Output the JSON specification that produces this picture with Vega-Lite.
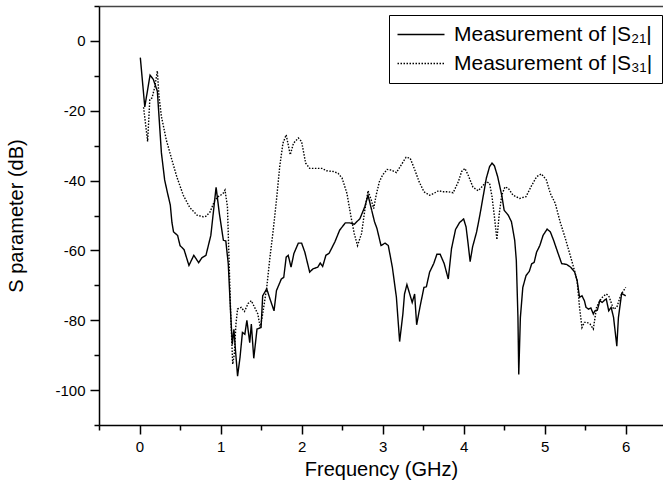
{
  "$schema": "https://vega.github.io/schema/vega-lite/v6.json",
  "width": 564,
  "height": 419,
  "autosize": "none",
  "padding": {"left": 99, "top": 6, "right": 0, "bottom": 66},
  "background": "white",
  "config": {
    "font": "Liberation Sans",
    "view": {"stroke": null},
    "axis": {
      "grid": false,
      "domainColor": "black",
      "domainWidth": 1.5,
      "tickColor": "black",
      "tickWidth": 1.5,
      "labelColor": "black",
      "labelFontSize": 15,
      "titleColor": "black",
      "titleFontSize": 20,
      "titleFontWeight": "normal"
    },
    "legend": {
      "orient": "none",
      "legendX": 290,
      "legendY": 9,
      "strokeColor": "black",
      "fillColor": "white",
      "padding": 9,
      "rowPadding": 7,
      "symbolType": "M-1.375,0H4.5",
      "symbolSize": 256,
      "symbolStrokeWidth": 1.4,
      "symbolStrokeColor": "black",
      "labelFontSize": 21,
      "labelColor": "black",
      "labelOffset": 35,
      "labelLimit": 400,
      "title": null
    }
  },
  "data": {
    "values": [
      {"s":"S21","f":0.01,"v":-4.8},{"s":"S21","f":0.065,"v":-18.9},{"s":"S21","f":0.13,"v":-9.8},{"s":"S21","f":0.17,"v":-11},{"s":"S21","f":0.22,"v":-14.4},{"s":"S21","f":0.27,"v":-32},{"s":"S21","f":0.31,"v":-39.8},{"s":"S21","f":0.34,"v":-43},{"s":"S21","f":0.38,"v":-47},{"s":"S21","f":0.4,"v":-52},{"s":"S21","f":0.42,"v":-54.7},{"s":"S21","f":0.47,"v":-55.7},{"s":"S21","f":0.5,"v":-58.6},{"s":"S21","f":0.55,"v":-59.8},{"s":"S21","f":0.61,"v":-64.3},{"s":"S21","f":0.67,"v":-61.4},{"s":"S21","f":0.73,"v":-63.5},{"s":"S21","f":0.77,"v":-62.1},{"s":"S21","f":0.82,"v":-61.4},{"s":"S21","f":0.88,"v":-55.7},{"s":"S21","f":0.945,"v":-41.9},{"s":"S21","f":0.985,"v":-49.4},{"s":"S21","f":1.035,"v":-57.1},{"s":"S21","f":1.065,"v":-57.3},{"s":"S21","f":1.095,"v":-63.8},{"s":"S21","f":1.125,"v":-78.2},{"s":"S21","f":1.145,"v":-86.9},{"s":"S21","f":1.165,"v":-82.6},{"s":"S21","f":1.185,"v":-88.8},{"s":"S21","f":1.21,"v":-96},{"s":"S21","f":1.24,"v":-90.7},{"s":"S21","f":1.27,"v":-83.5},{"s":"S21","f":1.3,"v":-84},{"s":"S21","f":1.325,"v":-80},{"s":"S21","f":1.36,"v":-86.4},{"s":"S21","f":1.38,"v":-81.1},{"s":"S21","f":1.41,"v":-90.9},{"s":"S21","f":1.45,"v":-82.5},{"s":"S21","f":1.5,"v":-82.1},{"s":"S21","f":1.52,"v":-73},{"s":"S21","f":1.57,"v":-71},{"s":"S21","f":1.61,"v":-73.9},{"s":"S21","f":1.66,"v":-77.3},{"s":"S21","f":1.69,"v":-71.5},{"s":"S21","f":1.75,"v":-68.2},{"s":"S21","f":1.78,"v":-67.7},{"s":"S21","f":1.81,"v":-61.9},{"s":"S21","f":1.835,"v":-61.4},{"s":"S21","f":1.87,"v":-64.8},{"s":"S21","f":1.905,"v":-60.9},{"s":"S21","f":1.96,"v":-57.9},{"s":"S21","f":2.0,"v":-57.9},{"s":"S21","f":2.04,"v":-60.5},{"s":"S21","f":2.1,"v":-66.2},{"s":"S21","f":2.14,"v":-65.3},{"s":"S21","f":2.2,"v":-64.8},{"s":"S21","f":2.23,"v":-63.6},{"s":"S21","f":2.26,"v":-64.6},{"s":"S21","f":2.3,"v":-61.4},{"s":"S21","f":2.34,"v":-60.8},{"s":"S21","f":2.41,"v":-57.6},{"s":"S21","f":2.47,"v":-54.2},{"s":"S21","f":2.54,"v":-52.1},{"s":"S21","f":2.59,"v":-52.1},{"s":"S21","f":2.65,"v":-52.5},{"s":"S21","f":2.72,"v":-50.9},{"s":"S21","f":2.78,"v":-47.5},{"s":"S21","f":2.82,"v":-44.2},{"s":"S21","f":2.86,"v":-48},{"s":"S21","f":2.9,"v":-51.8},{"s":"S21","f":2.93,"v":-53.7},{"s":"S21","f":2.98,"v":-58.6},{"s":"S21","f":3.03,"v":-57.9},{"s":"S21","f":3.07,"v":-58.6},{"s":"S21","f":3.12,"v":-64.8},{"s":"S21","f":3.17,"v":-73.4},{"s":"S21","f":3.21,"v":-86.1},{"s":"S21","f":3.25,"v":-78.2},{"s":"S21","f":3.27,"v":-72.5},{"s":"S21","f":3.3,"v":-69.8},{"s":"S21","f":3.34,"v":-72.9},{"s":"S21","f":3.365,"v":-74.9},{"s":"S21","f":3.395,"v":-72.5},{"s":"S21","f":3.42,"v":-81.3},{"s":"S21","f":3.46,"v":-76.3},{"s":"S21","f":3.51,"v":-70.6},{"s":"S21","f":3.54,"v":-70.4},{"s":"S21","f":3.58,"v":-66.2},{"s":"S21","f":3.63,"v":-63.8},{"s":"S21","f":3.67,"v":-61.1},{"s":"S21","f":3.71,"v":-61.1},{"s":"S21","f":3.76,"v":-63.8},{"s":"S21","f":3.81,"v":-68.2},{"s":"S21","f":3.85,"v":-59.5},{"s":"S21","f":3.9,"v":-54},{"s":"S21","f":3.95,"v":-52},{"s":"S21","f":4.0,"v":-51},{"s":"S21","f":4.03,"v":-53.3},{"s":"S21","f":4.055,"v":-58.1},{"s":"S21","f":4.08,"v":-63.2},{"s":"S21","f":4.11,"v":-59},{"s":"S21","f":4.16,"v":-54.7},{"s":"S21","f":4.2,"v":-49.9},{"s":"S21","f":4.24,"v":-44.6},{"s":"S21","f":4.28,"v":-39.3},{"s":"S21","f":4.32,"v":-36},{"s":"S21","f":4.35,"v":-35},{"s":"S21","f":4.38,"v":-35.8},{"s":"S21","f":4.42,"v":-38.9},{"s":"S21","f":4.47,"v":-44.2},{"s":"S21","f":4.5,"v":-48.5},{"s":"S21","f":4.55,"v":-49.9},{"s":"S21","f":4.59,"v":-51.8},{"s":"S21","f":4.63,"v":-57.1},{"s":"S21","f":4.65,"v":-62.9},{"s":"S21","f":4.67,"v":-79.2},{"s":"S21","f":4.68,"v":-95.5},{"s":"S21","f":4.7,"v":-79.2},{"s":"S21","f":4.73,"v":-70.6},{"s":"S21","f":4.77,"v":-67.2},{"s":"S21","f":4.81,"v":-66},{"s":"S21","f":4.84,"v":-63.8},{"s":"S21","f":4.87,"v":-63.4},{"s":"S21","f":4.9,"v":-60.5},{"s":"S21","f":4.94,"v":-58.6},{"s":"S21","f":4.98,"v":-55.7},{"s":"S21","f":5.03,"v":-53.9},{"s":"S21","f":5.07,"v":-54.7},{"s":"S21","f":5.11,"v":-57.1},{"s":"S21","f":5.16,"v":-60.5},{"s":"S21","f":5.21,"v":-63.8},{"s":"S21","f":5.27,"v":-64},{"s":"S21","f":5.32,"v":-64.8},{"s":"S21","f":5.37,"v":-66.2},{"s":"S21","f":5.4,"v":-68.6},{"s":"S21","f":5.43,"v":-73.4},{"s":"S21","f":5.46,"v":-73},{"s":"S21","f":5.49,"v":-74.4},{"s":"S21","f":5.51,"v":-76.3},{"s":"S21","f":5.54,"v":-76.8},{"s":"S21","f":5.57,"v":-76.5},{"s":"S21","f":5.6,"v":-78.2},{"s":"S21","f":5.62,"v":-77.3},{"s":"S21","f":5.65,"v":-77.1},{"s":"S21","f":5.68,"v":-74.4},{"s":"S21","f":5.71,"v":-74.9},{"s":"S21","f":5.74,"v":-74.2},{"s":"S21","f":5.76,"v":-73.9},{"s":"S21","f":5.79,"v":-77.3},{"s":"S21","f":5.82,"v":-76.3},{"s":"S21","f":5.85,"v":-79.2},{"s":"S21","f":5.89,"v":-87.4},{"s":"S21","f":5.91,"v":-79.2},{"s":"S21","f":5.95,"v":-72.3},{"s":"S21","f":6.0,"v":-73},
      {"s":"S31","f":0.05,"v":-19},{"s":"S31","f":0.1,"v":-28.8},{"s":"S31","f":0.127,"v":-16.8},{"s":"S31","f":0.155,"v":-16.3},{"s":"S31","f":0.19,"v":-13},{"s":"S31","f":0.22,"v":-8.6},{"s":"S31","f":0.24,"v":-15.8},{"s":"S31","f":0.27,"v":-21.6},{"s":"S31","f":0.33,"v":-28.3},{"s":"S31","f":0.4,"v":-34.1},{"s":"S31","f":0.46,"v":-38.9},{"s":"S31","f":0.54,"v":-44.2},{"s":"S31","f":0.62,"v":-47.7},{"s":"S31","f":0.71,"v":-49.9},{"s":"S31","f":0.79,"v":-50.4},{"s":"S31","f":0.82,"v":-50.2},{"s":"S31","f":0.87,"v":-49},{"s":"S31","f":0.93,"v":-45.6},{"s":"S31","f":0.97,"v":-44.6},{"s":"S31","f":1.0,"v":-44.2},{"s":"S31","f":1.03,"v":-43.7},{"s":"S31","f":1.055,"v":-42.7},{"s":"S31","f":1.085,"v":-47.5},{"s":"S31","f":1.1,"v":-59},{"s":"S31","f":1.125,"v":-78.2},{"s":"S31","f":1.15,"v":-92.6},{"s":"S31","f":1.17,"v":-89.7},{"s":"S31","f":1.19,"v":-81.1},{"s":"S31","f":1.21,"v":-76.8},{"s":"S31","f":1.255,"v":-76.3},{"s":"S31","f":1.295,"v":-77.5},{"s":"S31","f":1.34,"v":-75.2},{"s":"S31","f":1.38,"v":-74.4},{"s":"S31","f":1.42,"v":-76.3},{"s":"S31","f":1.46,"v":-78.2},{"s":"S31","f":1.49,"v":-82.1},{"s":"S31","f":1.52,"v":-78.2},{"s":"S31","f":1.57,"v":-70.6},{"s":"S31","f":1.61,"v":-61.9},{"s":"S31","f":1.65,"v":-54.2},{"s":"S31","f":1.69,"v":-45.6},{"s":"S31","f":1.73,"v":-36},{"s":"S31","f":1.77,"v":-29.3},{"s":"S31","f":1.81,"v":-26.9},{"s":"S31","f":1.86,"v":-32.6},{"s":"S31","f":1.9,"v":-29.3},{"s":"S31","f":1.96,"v":-27.8},{"s":"S31","f":2.0,"v":-28.8},{"s":"S31","f":2.05,"v":-35},{"s":"S31","f":2.1,"v":-36.5},{"s":"S31","f":2.17,"v":-36.5},{"s":"S31","f":2.25,"v":-36.5},{"s":"S31","f":2.31,"v":-37.2},{"s":"S31","f":2.39,"v":-37.4},{"s":"S31","f":2.45,"v":-37.9},{"s":"S31","f":2.5,"v":-39.3},{"s":"S31","f":2.56,"v":-43.7},{"s":"S31","f":2.61,"v":-50.4},{"s":"S31","f":2.65,"v":-55.2},{"s":"S31","f":2.69,"v":-58.6},{"s":"S31","f":2.74,"v":-55.2},{"s":"S31","f":2.78,"v":-48.5},{"s":"S31","f":2.82,"v":-42.9},{"s":"S31","f":2.86,"v":-45.6},{"s":"S31","f":2.89,"v":-48},{"s":"S31","f":2.92,"v":-44.2},{"s":"S31","f":2.96,"v":-40.3},{"s":"S31","f":3.0,"v":-38.4},{"s":"S31","f":3.055,"v":-36.8},{"s":"S31","f":3.11,"v":-37},{"s":"S31","f":3.17,"v":-37.7},{"s":"S31","f":3.23,"v":-35.5},{"s":"S31","f":3.29,"v":-33.3},{"s":"S31","f":3.34,"v":-33.6},{"s":"S31","f":3.39,"v":-36.5},{"s":"S31","f":3.45,"v":-40.3},{"s":"S31","f":3.51,"v":-43.2},{"s":"S31","f":3.58,"v":-44.2},{"s":"S31","f":3.63,"v":-43.7},{"s":"S31","f":3.69,"v":-42.9},{"s":"S31","f":3.75,"v":-43.2},{"s":"S31","f":3.81,"v":-43.2},{"s":"S31","f":3.87,"v":-43.5},{"s":"S31","f":3.935,"v":-40.3},{"s":"S31","f":3.975,"v":-37.4},{"s":"S31","f":4.015,"v":-36.5},{"s":"S31","f":4.055,"v":-38.4},{"s":"S31","f":4.115,"v":-41.9},{"s":"S31","f":4.18,"v":-42.9},{"s":"S31","f":4.22,"v":-41.9},{"s":"S31","f":4.28,"v":-40.3},{"s":"S31","f":4.32,"v":-40.8},{"s":"S31","f":4.35,"v":-44.6},{"s":"S31","f":4.38,"v":-50.4},{"s":"S31","f":4.41,"v":-56.9},{"s":"S31","f":4.44,"v":-49.4},{"s":"S31","f":4.47,"v":-44.2},{"s":"S31","f":4.51,"v":-41.8},{"s":"S31","f":4.55,"v":-42.2},{"s":"S31","f":4.61,"v":-44.2},{"s":"S31","f":4.69,"v":-45.1},{"s":"S31","f":4.77,"v":-44.6},{"s":"S31","f":4.83,"v":-41.8},{"s":"S31","f":4.9,"v":-38.9},{"s":"S31","f":4.96,"v":-38.1},{"s":"S31","f":5.02,"v":-39.8},{"s":"S31","f":5.07,"v":-43.7},{"s":"S31","f":5.13,"v":-46.5},{"s":"S31","f":5.19,"v":-51.8},{"s":"S31","f":5.25,"v":-56.2},{"s":"S31","f":5.31,"v":-61},{"s":"S31","f":5.35,"v":-64.3},{"s":"S31","f":5.4,"v":-68.6},{"s":"S31","f":5.43,"v":-76.3},{"s":"S31","f":5.46,"v":-82.1},{"s":"S31","f":5.49,"v":-80.6},{"s":"S31","f":5.52,"v":-80.6},{"s":"S31","f":5.56,"v":-81.1},{"s":"S31","f":5.6,"v":-82.5},{"s":"S31","f":5.64,"v":-76.3},{"s":"S31","f":5.68,"v":-74.4},{"s":"S31","f":5.72,"v":-73.2},{"s":"S31","f":5.76,"v":-72.5},{"s":"S31","f":5.79,"v":-73},{"s":"S31","f":5.82,"v":-74.9},{"s":"S31","f":5.85,"v":-76.8},{"s":"S31","f":5.89,"v":-76.3},{"s":"S31","f":5.93,"v":-73.4},{"s":"S31","f":5.96,"v":-72},{"s":"S31","f":6.0,"v":-70.6}
    ]
  },
  "layer": [
    {
      "mark": {"type": "line", "color": "black", "strokeWidth": 1.4, "clip": true},
      "encoding": {
        "x": {
          "field": "f",
          "type": "quantitative",
          "scale": {"domain": [-0.5, 6.46], "nice": false, "zero": false},
          "axis": {
            "title": "Frequency (GHz)",
            "orient": "bottom",
            "values": [-0.5, 0, 0.5, 1, 1.5, 2, 2.5, 3, 3.5, 4, 4.5, 5, 5.5, 6],
            "labelExpr": "datum.value % 1 === 0 ? '' + datum.value : ''",
            "tickSize": {"condition": {"test": "datum.value % 1 !== 0", "value": 5}, "value": 9},
            "labelPadding": 5,
            "titlePadding": 5
          }
        },
        "y": {
          "field": "v",
          "type": "quantitative",
          "scale": {"domain": [-110, 10], "nice": false, "zero": false},
          "axis": {
            "title": "S parameter (dB)",
            "values": [-110, -100, -90, -80, -70, -60, -50, -40, -30, -20, -10, 0, 10],
            "labelExpr": "datum.value % 20 === 0 ? '' + datum.value : ''",
            "tickSize": {"condition": {"test": "datum.value % 20 !== 0", "value": 5}, "value": 9},
            "labelPadding": 5,
            "titlePadding": 28
          }
        },
        "strokeDash": {
          "field": "s",
          "type": "nominal",
          "scale": {"domain": ["S21", "S31"], "range": [[1, 0], [1.5, 1.5]]},
          "legend": {
            "labelExpr": "'Measurement of |S' + (datum.label === 'S21' ? '₂₁' : '₃₁') + '|'"
          }
        }
      }
    },
    {
      "mark": {"type": "rule", "opacity": 0},
      "encoding": {
        "x": {
          "field": "f",
          "type": "quantitative",
          "axis": {"orient": "top", "labels": false, "ticks": false, "title": null, "domainColor": "#444"}
        }
      }
    }
  ],
  "resolve": {"axis": {"x": "independent"}}
}
